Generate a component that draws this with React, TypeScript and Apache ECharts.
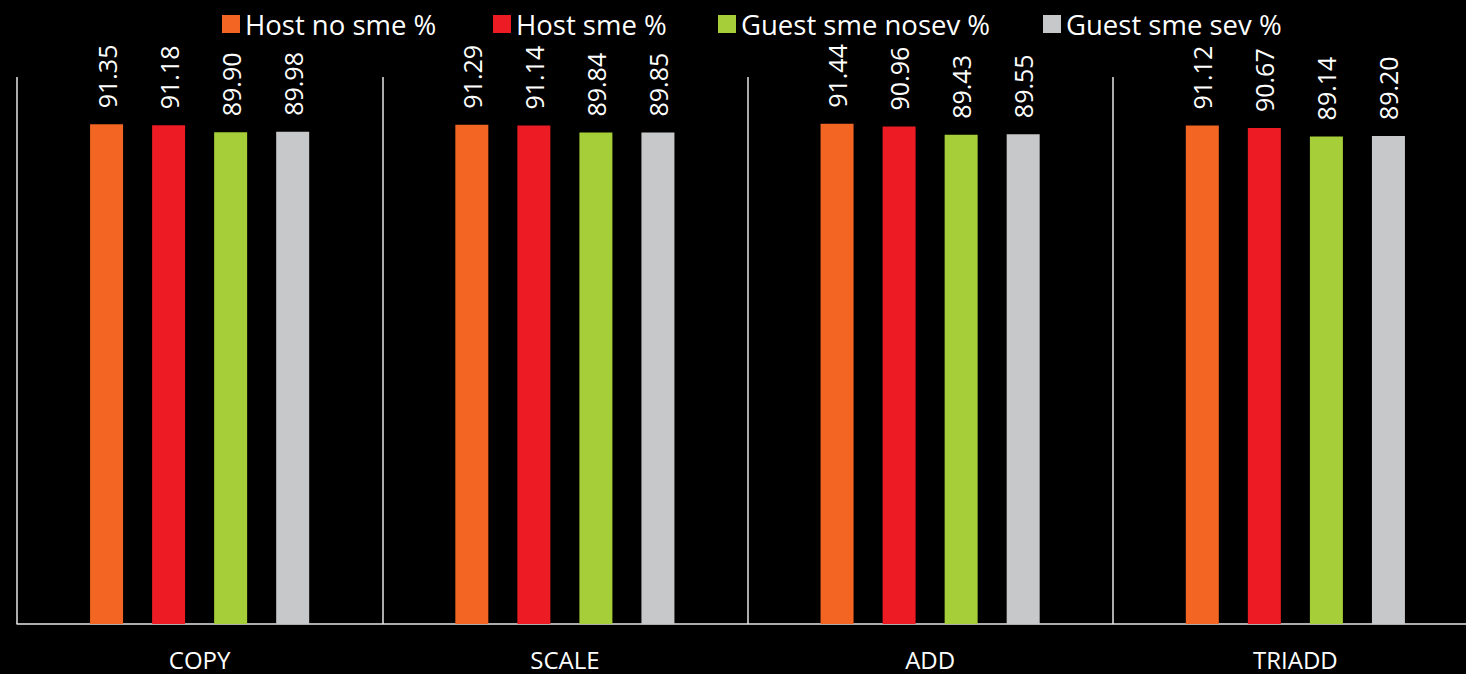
import React, { useEffect, useRef } from "react";
import * as echarts from "echarts";

const categories = ["COPY", "SCALE", "ADD", "TRIADD"];
const hostNoSme = [91.35, 91.29, 91.44, 91.12];
const hostSme = [91.18, 91.14, 90.96, 90.67];
const guestSmeNosev = [89.9, 89.84, 89.43, 89.14];
const guestSmeSev = [89.98, 89.85, 89.55, 89.2];
const seriesNames = ["Host no sme %", "Host sme %", "Guest sme nosev %", "Guest sme sev %"];
const seriesColors = ["#F26522", "#ED1C24", "#A6CE39", "#C7C8CA"];
const legendLefts = [217, 488, 713, 1038];

const FONT = "'Open Sans', 'Liberation Sans', sans-serif";

export default function App() {
  const ref = useRef<HTMLDivElement>(null);
  useEffect(() => {
    if (!ref.current) return;
    const chart = echarts.init(ref.current, undefined, { renderer: "svg" });
    const data = [hostNoSme, hostSme, guestSmeNosev, guestSmeSev];
    chart.setOption({
      animation: false,
      backgroundColor: "#000000",
      legend: seriesNames.map((n, i) => ({
        left: legendLefts[i],
        top: 5,
        icon: "rect",
        itemWidth: 18,
        itemHeight: 18,
        textStyle: { color: "#ffffff", fontSize: 27.5, fontFamily: FONT },
        data: [n],
      })),
      grid: {
        left: 17,
        width: 1461,
        top: 77,
        bottom: 50,
        containLabel: false,
        outerBoundsMode: "none",
      },
      xAxis: {
        type: "category",
        data: categories,
        axisLine: { show: true, lineStyle: { color: "#e6e6e6", width: 1.5 } },
        axisTick: { show: false },
        splitLine: { show: true, interval: 0, lineStyle: { color: "#e6e6e6", width: 1.5 } },
        axisLabel: { color: "#ffffff", fontSize: 24, fontFamily: FONT, margin: 23 },
      },
      yAxis: {
        type: "value",
        min: 0,
        max: 100,
        show: false,
        splitLine: { show: false },
      },
      series: data.map((d, i) => ({
        name: seriesNames[i],
        type: "bar",
        data: d,
        barWidth: 33,
        barGap: "88%",
        itemStyle: { color: seriesColors[i] },
        label: {
          show: true,
          position: "top",
          rotate: 90,
          align: "left",
          verticalAlign: "middle",
          distance: 16,
          color: "#ffffff",
          fontSize: 25,
          fontFamily: FONT,
          formatter: (p: any) => p.value.toFixed(2),
        },
      })),
    });
    return () => chart.dispose();
  }, []);
  return (
    <div
      ref={ref}
      style={{ position: "absolute", left: 0, top: 0, width: 1466, height: 674 }}
    />
  );
}
